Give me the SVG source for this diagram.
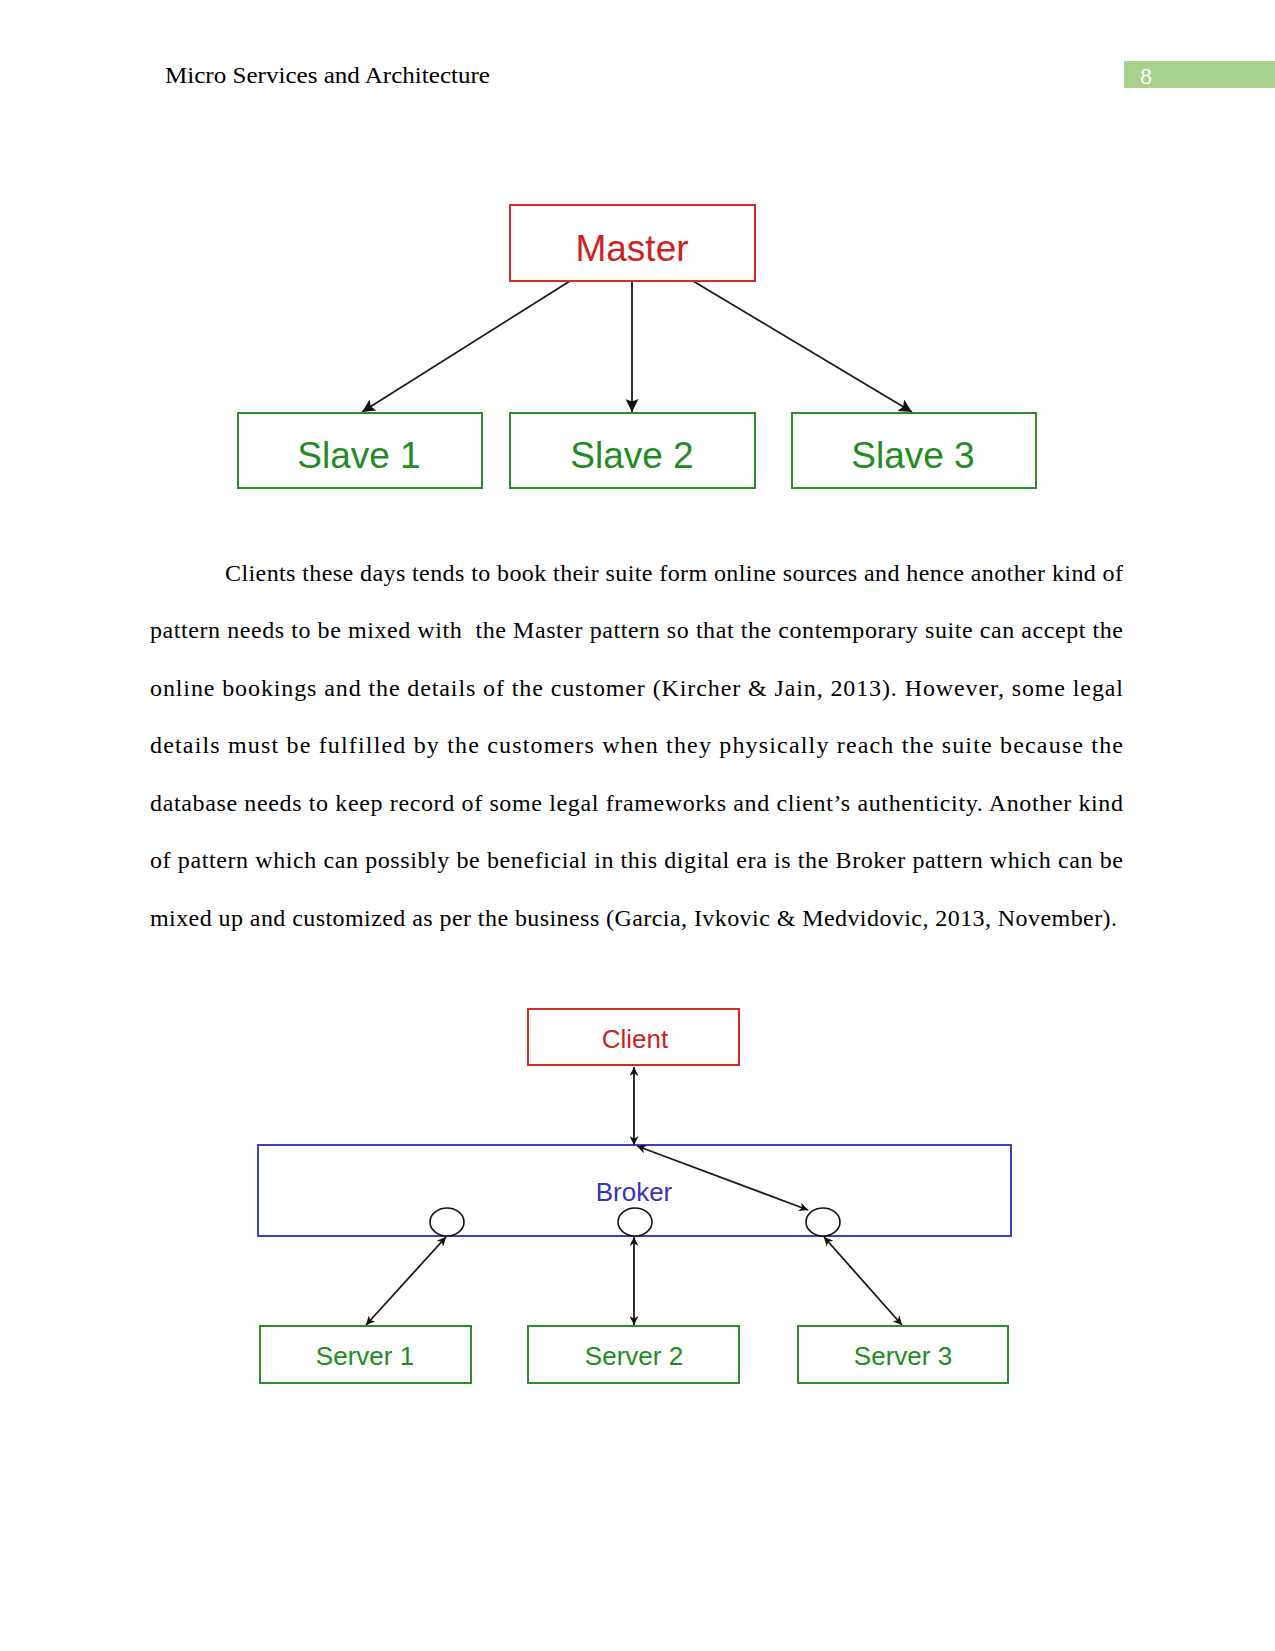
<svg xmlns="http://www.w3.org/2000/svg" width="1275" height="1651" viewBox="0 0 1275 1651">
<defs>
<style>
.page{fill:#ffffff}
.hdr{font-family:"Liberation Serif","Times New Roman",serif;font-size:24px;fill:#000}
.body{font-family:"Liberation Serif","Times New Roman",serif;font-size:24px;fill:#000}
.red{fill:#ffffff;stroke:#d42a2a;stroke-width:2}
.grn{fill:#ffffff;stroke:#2e8b2e;stroke-width:2}
.blu{fill:none;stroke:#4040c0;stroke-width:2}
.redt{font-family:"Liberation Sans",Arial,sans-serif;fill:#d01f1f;text-anchor:middle}
.grnt{font-family:"Liberation Sans",Arial,sans-serif;fill:#228b22;text-anchor:middle}
.blut{font-family:"Liberation Sans",Arial,sans-serif;fill:#3535b5;text-anchor:middle}
.conn{stroke:#1a1a1a;stroke-width:1.8;fill:none}
.port{fill:#ffffff;stroke:#111;stroke-width:1.6}
</style>
<marker id="ah" viewBox="0 0 10 10" refX="10" refY="5" markerWidth="13" markerHeight="13" markerUnits="userSpaceOnUse" orient="auto">
<path d="M0,0 L10,5 L0,10 L2,5 Z" fill="#111"/>
</marker>
<marker id="ah2" viewBox="0 0 10 10" refX="10" refY="5" markerWidth="9" markerHeight="9" markerUnits="userSpaceOnUse" orient="auto-start-reverse">
<path d="M0,0 L10,5 L0,10 L3,5 Z" fill="#111"/>
</marker>
</defs>
<rect class="page" x="0" y="0" width="1275" height="1651"/>

<g id="header">
<text class="hdr" x="165" y="83" textLength="325" lengthAdjust="spacingAndGlyphs">Micro Services and Architecture</text>
<rect x="1124" y="61" width="151" height="27" fill="#a9d18e"/>
<text x="1146" y="84" font-family="Liberation Serif,serif" font-size="24" fill="#ffffff" text-anchor="middle">8</text>
</g>

<g id="connectors-1">
<line class="conn" x1="570" y1="281" x2="362" y2="412" marker-end="url(#ah)"/>
<line class="conn" x1="632" y1="281" x2="632" y2="412" marker-end="url(#ah)"/>
<line class="conn" x1="693" y1="281" x2="912" y2="412" marker-end="url(#ah)"/>
</g>

<g id="master">
<rect class="red" x="510" y="205" width="245" height="76"/>
<text class="redt" x="632" y="261" font-size="37">Master</text>
</g>
<g id="slave1">
<rect class="grn" x="238" y="413" width="244" height="75"/>
<text class="grnt" x="359" y="468" font-size="37">Slave 1</text>
</g>
<g id="slave2">
<rect class="grn" x="510" y="413" width="245" height="75"/>
<text class="grnt" x="632" y="468" font-size="37">Slave 2</text>
</g>
<g id="slave3">
<rect class="grn" x="792" y="413" width="244" height="75"/>
<text class="grnt" x="913" y="468" font-size="37">Slave 3</text>
</g>

<g id="paragraph">
<text class="body" x="225" y="581" textLength="898" lengthAdjust="spacing">Clients these days tends to book their suite form online sources and hence another kind of</text>
<text class="body" x="150" y="638" textLength="973" lengthAdjust="spacing" xml:space="preserve">pattern needs to be mixed with  the Master pattern so that the contemporary suite can accept the</text>
<text class="body" x="150" y="696" textLength="973" lengthAdjust="spacing">online bookings and the details of the customer (Kircher &amp; Jain, 2013). However, some legal</text>
<text class="body" x="150" y="753" textLength="973" lengthAdjust="spacing">details must be fulfilled by the customers when they physically reach the suite because the</text>
<text class="body" x="150" y="811" textLength="973" lengthAdjust="spacing">database needs to keep record of some legal frameworks and client’s authenticity. Another kind</text>
<text class="body" x="150" y="868" textLength="973" lengthAdjust="spacing">of pattern which can possibly be beneficial in this digital era is the Broker pattern which can be</text>
<text class="body" x="150" y="926" textLength="967" lengthAdjust="spacing">mixed up and customized as per the business (Garcia, Ivkovic &amp; Medvidovic, 2013, November).</text>
</g>

<g id="broker">
<rect class="blu" x="258" y="1145" width="753" height="91"/>
<text class="blut" x="634" y="1201" font-size="26">Broker</text>
</g>
<g id="ports">
<ellipse class="port" cx="447" cy="1222" rx="17" ry="14"/>
<ellipse class="port" cx="635" cy="1222" rx="17" ry="14"/>
<ellipse class="port" cx="823" cy="1222" rx="17" ry="14"/>
</g>

<g id="connectors-2">
<line class="conn" x1="634" y1="1067" x2="634" y2="1145" marker-start="url(#ah2)" marker-end="url(#ah2)"/>
<line class="conn" x1="637" y1="1146" x2="808" y2="1210" marker-start="url(#ah2)" marker-end="url(#ah2)"/>
<line class="conn" x1="446" y1="1237" x2="366" y2="1325" marker-start="url(#ah2)" marker-end="url(#ah2)"/>
<line class="conn" x1="634" y1="1237" x2="634" y2="1325" marker-start="url(#ah2)" marker-end="url(#ah2)"/>
<line class="conn" x1="824" y1="1237" x2="902" y2="1325" marker-start="url(#ah2)" marker-end="url(#ah2)"/>
</g>

<g id="client">
<rect class="red" x="528" y="1009" width="211" height="56"/>
<text class="redt" x="635" y="1048" font-size="26">Client</text>
</g>
<g id="server1">
<rect class="grn" x="260" y="1326" width="211" height="57"/>
<text class="grnt" x="365" y="1365" font-size="26">Server 1</text>
</g>
<g id="server2">
<rect class="grn" x="528" y="1326" width="211" height="57"/>
<text class="grnt" x="634" y="1365" font-size="26">Server 2</text>
</g>
<g id="server3">
<rect class="grn" x="798" y="1326" width="210" height="57"/>
<text class="grnt" x="903" y="1365" font-size="26">Server 3</text>
</g>
</svg>
